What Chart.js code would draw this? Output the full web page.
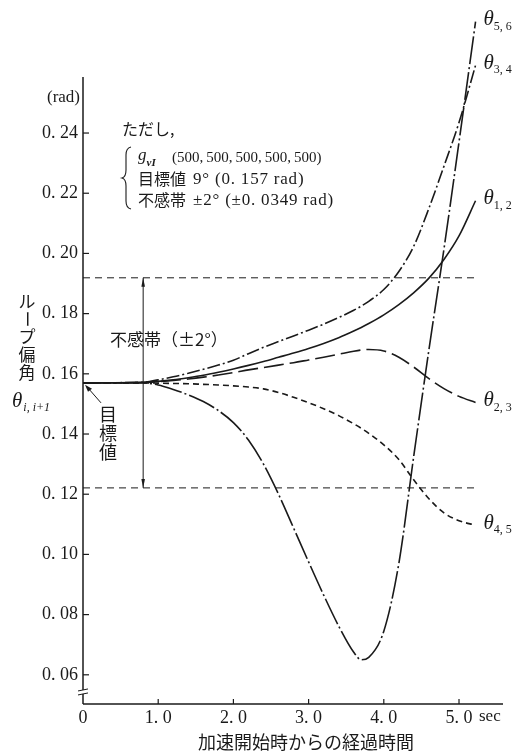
<!DOCTYPE html>
<html>
<head>
<meta charset="utf-8">
<script src="https://cdn.jsdelivr.net/npm/chart.js@4/dist/chart.umd.min.js"></script>
<style>
  body { margin: 0; background: #fff; }
  canvas { display: block; }
</style>
</head>
<body>
<canvas id="loopChart" width="515" height="751"></canvas>
<script>
// time since start of acceleration (sec)
const timeSec = [0, 0.8, 1.0, 1.2, 1.4, 1.6, 1.8, 2.0, 2.2, 2.4, 2.6, 2.8, 3.0, 3.2, 3.4, 3.6, 3.7, 3.8, 4.0, 4.2, 4.4, 4.6, 4.8, 5.0, 5.22];

// loop deviation angles (rad)
const theta12 = [0.157, 0.1572, 0.1575, 0.158, 0.1587, 0.1595, 0.1605, 0.1616, 0.1628, 0.1641, 0.1655, 0.1669, 0.1684, 0.1701, 0.172, 0.1742, 0.1754, 0.1767, 0.1796, 0.183, 0.187, 0.1918, 0.198, 0.2058, 0.2175];
const theta34 = [0.157, 0.1572, 0.158, 0.159, 0.1602, 0.1615, 0.1629, 0.1645, 0.1667, 0.1688, 0.1707, 0.1726, 0.1745, 0.1765, 0.1787, 0.1811, 0.1825, 0.1841, 0.188, 0.194, 0.2025, 0.215, 0.229, 0.2435, 0.2625];
const theta23 = [0.157, 0.1571, 0.1574, 0.1578, 0.1583, 0.1589, 0.1596, 0.1604, 0.1613, 0.1621, 0.1629, 0.1637, 0.1646, 0.1655, 0.1665, 0.1675, 0.1679, 0.1681, 0.1676, 0.1655, 0.1622, 0.1584, 0.1551, 0.1525, 0.1505];
const theta45 = [0.157, 0.157, 0.1569, 0.1568, 0.1567, 0.1565, 0.1563, 0.156, 0.1556, 0.155, 0.1538, 0.1522, 0.1504, 0.1484, 0.1461, 0.1434, 0.1419, 0.1402, 0.1364, 0.1315, 0.1247, 0.1185, 0.1138, 0.1112, 0.1097];
const theta56 = [0.157, 0.157, 0.1563, 0.1548, 0.153, 0.1508, 0.1478, 0.1438, 0.138, 0.13, 0.12, 0.1088, 0.0975, 0.0865, 0.0762, 0.0675, 0.065, 0.0658, 0.0745, 0.097, 0.133, 0.168, 0.2015, 0.237, 0.277];

const seriesNames = ['1, 2', '3, 4', '2, 3', '4, 5', '5, 6'];
const gains = [500, 500, 500, 500, 500];
const targetRad = 0.157;
const targetDeg = 9;
const bandRad = 0.0349;
const bandDeg = 2;
const bandTimes = [0, 5.2];
const bandArrowTime = 0.8;

const xTicks = [0, 1, 2, 3, 4, 5];
const yTicks = [0.06, 0.08, 0.10, 0.12, 0.14, 0.16, 0.18, 0.20, 0.22, 0.24];

const ink = '#1a1a1a';
const serif = '"Liberation Serif", "DejaVu Serif", serif';
const jp = '"Noto Sans CJK JP", sans-serif';

function pts(vals) {
    return timeSec.map((t, i) => ({ x: t, y: vals[i] }));
}

function curve(vals, dash, name) {
    return {
        label: name,
        data: pts(vals),
        borderColor: ink,
        borderWidth: 1.6,
        borderDash: dash,
        pointRadius: 0,
        fill: false,
        cubicInterpolationMode: 'monotone'
    };
}

function bandLine(v) {
    return {
        label: 'band',
        data: bandTimes.map(t => ({ x: t, y: v })),
        borderColor: ink,
        borderWidth: 1,
        borderDash: [7, 5],
        pointRadius: 0,
        fill: false
    };
}

// draws axes, labels and notes the library does not handle
const annotate = {
    id: 'annotate',
    afterDraw(chart) {
        const ctx = chart.ctx;
        const x = chart.scales.x, y = chart.scales.y;
        const x0 = x.getPixelForValue(0);
        const yb = y.bottom;
        const line = (a, b, c, d) => { ctx.beginPath(); ctx.moveTo(a, b); ctx.lineTo(c, d); ctx.stroke(); };
        const text = (s, px, py, font, align, spacing) => {
            ctx.font = font; ctx.textAlign = align || 'left'; ctx.textBaseline = 'middle';
            ctx.letterSpacing = spacing || '0px';
            ctx.fillText(s, px, py);
            const w = ctx.measureText(s).width;
            ctx.letterSpacing = '0px';
            return w;
        };
        ctx.save();
        ctx.strokeStyle = ink;
        ctx.fillStyle = ink;

        // axes
        ctx.lineWidth = 1.5;
        line(x0, y.getPixelForValue(0.2586), x0, yb);
        line(x0, yb, x.right, yb);
        ctx.lineWidth = 1.2;
        yTicks.forEach(v => { const py = y.getPixelForValue(v); line(x0, py, x0 + 6, py); });
        xTicks.slice(1).forEach(v => { const px = x.getPixelForValue(v); line(px, yb, px, yb - 5); });

        // axis break
        const by = y.getPixelForValue(0.0543);
        ctx.fillStyle = '#fff';
        ctx.fillRect(x0 - 2, by - 2, 4, 4);
        ctx.fillStyle = ink;
        ctx.lineWidth = 1;
        line(x0 - 5, by - 1, x0 + 5, by - 3);
        line(x0 - 5, by + 3, x0 + 5, by + 1);

        // unit and "sec"
        text('(rad)', 80, 98, '17px ' + serif, 'right');
        text('sec', x.getPixelForValue(5) + 20, 717, '17px ' + serif);

        // x title
        text('加速開始時からの経過時間', 306, 742, '18px ' + jp, 'center');

        // y title, vertical
        const yTitle = 'ループ偏角';
        const ySteps = [302, 319, 337, 355, 373];
        ctx.font = '17px ' + jp; ctx.textAlign = 'center'; ctx.textBaseline = 'middle';
        [...yTitle].forEach((ch, i) => {
            if (ch === 'ー') {
                ctx.save(); ctx.translate(27, ySteps[i]); ctx.rotate(Math.PI / 2);
                ctx.fillText(ch, 0, 0); ctx.restore();
            } else {
                ctx.fillText(ch, 27, ySteps[i]);
            }
        });
        let w = text('θ', 12, 401, 'italic 21px ' + serif);
        text('i, i+1', 12 + w + 1, 408, 'italic 12px ' + serif);

        // target marker
        const ty = y.getPixelForValue(targetRad);
        ['目', '標', '値'].forEach((ch, i) => text(ch, 108, 414 + i * 19, '18px ' + jp, 'center'));
        ctx.lineWidth = 1;
        line(101, ty + 20, x0 + 4, ty + 4);
        ctx.beginPath();
        ctx.moveTo(x0 + 2, ty + 2);
        ctx.lineTo(x0 + 9, ty + 6);
        ctx.lineTo(x0 + 5, ty + 9);
        ctx.closePath(); ctx.fill();

        // dead band arrow
        const ax = x.getPixelForValue(bandArrowTime);
        const ayTop = y.getPixelForValue(targetRad + bandRad);
        const ayBot = y.getPixelForValue(targetRad - bandRad);
        line(ax, ayTop, ax, ayBot);
        ctx.beginPath(); ctx.moveTo(ax, ayTop); ctx.lineTo(ax - 1.8, ayTop + 9); ctx.lineTo(ax + 1.8, ayTop + 9); ctx.closePath(); ctx.fill();
        ctx.beginPath(); ctx.moveTo(ax, ayBot); ctx.lineTo(ax - 1.8, ayBot - 9); ctx.lineTo(ax + 1.8, ayBot - 9); ctx.closePath(); ctx.fill();
        text('不感帯（±' + bandDeg + '°）', 110, 340, '17px ' + jp);

        // condition note
        text('ただし,', 122, 129, '16px ' + jp);
        ctx.lineWidth = 1.1;
        ctx.beginPath();
        ctx.moveTo(131, 147);
        ctx.quadraticCurveTo(126, 148, 126, 155);
        ctx.lineTo(126, 170);
        ctx.quadraticCurveTo(126, 177, 122, 178);
        ctx.quadraticCurveTo(126, 179, 126, 186);
        ctx.lineTo(126, 201);
        ctx.quadraticCurveTo(126, 208, 131, 209);
        ctx.stroke();
        w = text('g', 138, 156, 'italic 17px ' + serif);
        text('vI', 138 + w, 163, 'italic bold 11px ' + serif);
        text('(' + gains.join(',\u2009') + ')', 172, 158, '15px ' + serif);
        w = text('目標値', 138, 179, '16px ' + jp);
        text(' ' + targetDeg + '° (' + String(targetRad).replace('.', '. ') + ' rad)', 138 + w + 2, 180, '17px ' + serif, 'left', '0.8px');
        w = text('不感帯', 138, 200, '16px ' + jp);
        text(' ±' + bandDeg + '° (±' + String(bandRad).replace('.', '. ') + ' rad)', 138 + w + 2, 201, '17px ' + serif, 'left', '0.8px');

        // curve labels
        const ends = [theta12, theta34, theta23, theta45, theta56];
        ends.forEach((vals, i) => {
            const px = x.getPixelForValue(timeSec[timeSec.length - 1]) + 8;
            const py = y.getPixelForValue(vals[vals.length - 1]) - 2;
            const tw = text('θ', px, py, 'italic 21px ' + serif);
            text(seriesNames[i], px + tw, py + 7, '12px ' + serif);
        });
        ctx.restore();
    }
};

const ctx = document.getElementById('loopChart').getContext('2d');
new Chart(ctx, {
    type: 'line',
    data: {
        datasets: [
            curve(theta12, [], 'θ1,2'),
            curve(theta34, [13, 3, 2, 3], 'θ3,4'),
            curve(theta23, [20, 6], 'θ2,3'),
            curve(theta45, [6, 4], 'θ4,5'),
            curve(theta56, [28, 3, 2, 3], 'θ5,6'),
            bandLine(targetRad + bandRad),
            bandLine(targetRad - bandRad)
        ]
    },
    options: {
        responsive: false,
        animation: false,
        devicePixelRatio: 1,
        layout: { padding: { left: 0, right: 12, top: 0, bottom: 0 } },
        plugins: {
            legend: { display: false },
            tooltip: { enabled: false }
        },
        scales: {
            x: {
                type: 'linear',
                min: 0,
                max: 5.585,
                afterFit: s => { s.height = 47; s.paddingLeft = 0; s.paddingRight = 0; },
                afterBuildTicks: s => { s.ticks = xTicks.map(v => ({ value: v })); },
                grid: { display: false, drawTicks: false, tickLength: 0 },
                border: { display: false },
                ticks: {
                    autoSkip: false,
                    maxRotation: 0,
                    padding: 3,
                    color: ink,
                    font: { family: serif, size: 18 },
                    callback: v => v === 0 ? '0' : v.toFixed(1).replace('.', '. ')
                }
            },
            y: {
                min: 0.0503,
                max: 0.2842,
                afterFit: s => { s.width = 83; s.paddingTop = 0; s.paddingBottom = 0; },
                afterBuildTicks: s => { s.ticks = yTicks.map(v => ({ value: v })); },
                grid: { display: false, drawTicks: false, tickLength: 0 },
                border: { display: false },
                ticks: {
                    padding: 5,
                    color: ink,
                    font: { family: serif, size: 18 },
                    callback: v => v.toFixed(2).replace('.', '. ')
                }
            }
        }
    },
    plugins: [annotate]
});
</script>
</body>
</html>
